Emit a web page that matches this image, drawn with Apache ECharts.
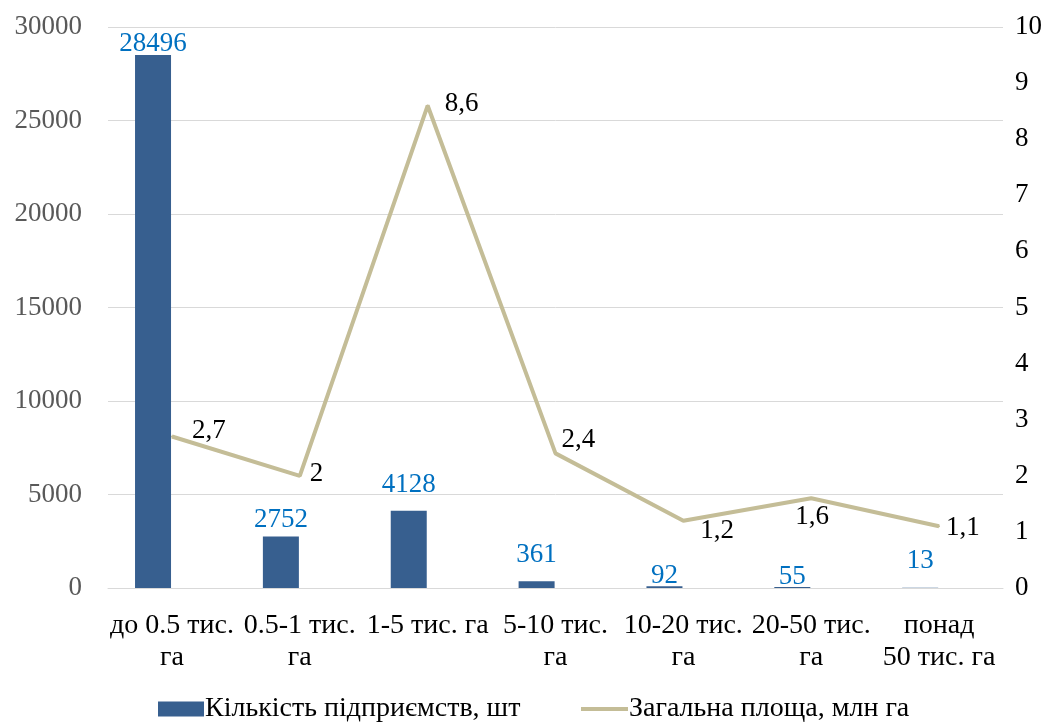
<!DOCTYPE html>
<html>
<head>
<meta charset="utf-8">
<script src="https://cdn.jsdelivr.net/npm/echarts@6/dist/echarts.min.js"></script>
<style>
  html, body { margin: 0; padding: 0; background: #fff; }
  #chart { width: 1059px; height: 722px; }
</style>
</head>
<body>
<div id="chart"></div>
<script>
  // категорії за розміром площі
  var categories = ['до 0.5 тис.\nга', '0.5-1 тис.\nга', '1-5 тис. га', '5-10 тис.\nга', '10-20 тис.\nга', '20-50 тис.\nга', 'понад\n50 тис. га'];
  var countValues = [28496, 2752, 4128, 361, 92, 55, 13];
  var areaValues = [2.7, 2, 8.6, 2.4, 1.2, 1.6, 1.1];
  var leftTicks = [0, 30000, 5000];
  var rightTicks = [0, 10, 1];

  var serif = "'Liberation Serif', 'Times New Roman', serif";
  var fs = 27;
  // зсув підписів (як розставлено вручну в Excel)
  var lineLabelDx = [14, 4, 11, 0, 11, -22, 1];
  var lineLabelDy = [-6, -2, -2, -13, 10, 19, 2];
  var barLabelDy = [5, 0, -9, -10, 6, 6, -10];

  var chart = echarts.init(document.getElementById('chart'));
  var option = {
    animation: false,
    textStyle: { fontFamily: serif },
    grid: { left: 108, right: 56, top: 27, bottom: 134 },
    legend: [
      {
        left: 153,
        top: 690,
        itemWidth: 46,
        itemHeight: 15,
        data: [{ name: 'Кількість підприємств, шт', icon: 'rect' }],
        textStyle: { fontFamily: serif, fontSize: 28, color: '#000', padding: [0, 0, 0, -4] }
      },
      {
        left: 576,
        top: 690,
        itemWidth: 47,
        itemHeight: 4,
        data: [{ name: 'Загальна площа, млн га', icon: 'rect', itemStyle: { color: '#C4BD97' } }],
        textStyle: { fontFamily: serif, fontSize: 28, color: '#000', padding: [0, 0, 0, -4] }
      }
    ],
    xAxis: {
      type: 'category',
      data: categories,
      axisTick: { show: false },
      axisLine: { lineStyle: { color: '#d9d9d9', width: 1 } },
      axisLabel: { fontFamily: serif, fontSize: 28, color: '#000', lineHeight: 32, interval: 0, margin: 22 }
    },
    yAxis: [
      {
        type: 'value',
        min: leftTicks[0], max: leftTicks[1], interval: leftTicks[2],
        axisLabel: { fontFamily: serif, fontSize: fs, color: '#595959', margin: 26, formatter: function (v) { return String(v); } },
        splitLine: { lineStyle: { color: '#d9d9d9', width: 1 } },
        axisLine: { show: false },
        axisTick: { show: false }
      },
      {
        type: 'value',
        min: rightTicks[0], max: rightTicks[1], interval: rightTicks[2],
        axisLabel: { fontFamily: serif, fontSize: fs, color: '#000', margin: 12, align: 'left' },
        splitLine: { show: false },
        axisLine: { show: false },
        axisTick: { show: false }
      }
    ],
    series: [
      {
        name: 'Кількість підприємств, шт',
        type: 'bar',
        data: countValues,
        barWidth: 36,
        barGap: '5%',
        itemStyle: { color: '#375F8F' },
        label: {
          show: true,
          position: 'top',
          distance: 3,
          fontFamily: serif,
          fontSize: fs,
          color: '#0070C0'
        },
        labelLayout: function (p) {
          return { dy: barLabelDy[p.dataIndex] };
        }
      },
      {
        // порожня серія для зсуву стовпців як в Excel
        name: 'spacer',
        type: 'bar',
        data: [],
        barWidth: 36,
        silent: true
      },
      {
        name: 'Загальна площа, млн га',
        type: 'line',
        yAxisIndex: 1,
        data: areaValues,
        symbol: 'circle',
        symbolSize: 2,
        showSymbol: true,
        lineStyle: { color: '#C4BD97', width: 4 },
        itemStyle: { color: '#C4BD97' },
        label: {
          show: true,
          position: 'right',
          distance: 5,
          fontFamily: serif,
          fontSize: fs,
          color: '#000',
          formatter: function (p) { return String(p.value).replace('.', ','); }
        },
        labelLayout: function (p) {
          return { dx: lineLabelDx[p.dataIndex], dy: lineLabelDy[p.dataIndex] };
        }
      }
    ]
  };
  chart.setOption(option);
</script>
</body>
</html>
